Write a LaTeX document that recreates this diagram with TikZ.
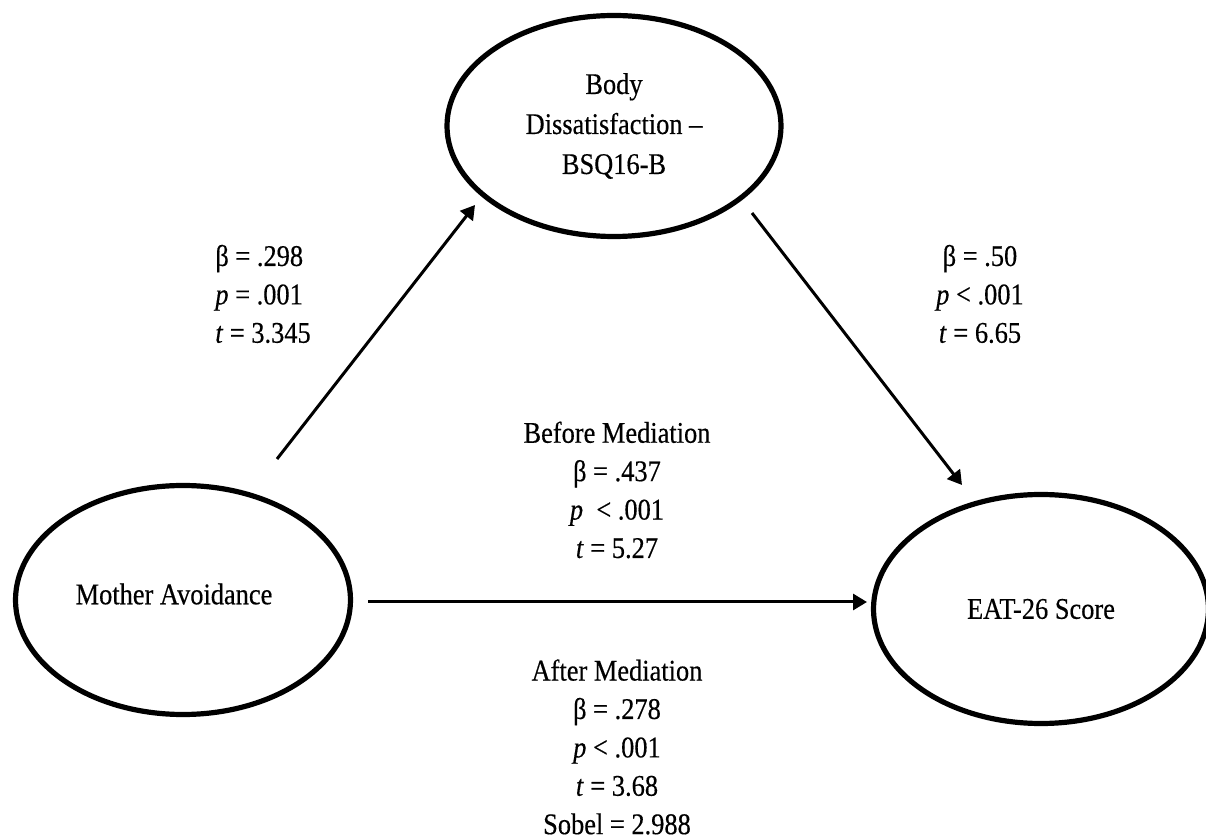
\documentclass[tikz,border=0pt]{standalone}
\usepackage{fontspec}
\setmainfont{Liberation Serif}[FakeStretch=0.88,FakeBold=0.4]
\usetikzlibrary{shapes.geometric,arrows.meta}
\begin{document}
\begin{tikzpicture}[x=0.5pt,y=-0.5pt,
  latent/.style={ellipse,draw,line width=2.6pt,inner sep=0pt,font=\fontsize{15}{20}\selectfont,align=center},
  lbl/.style={font=\fontsize{15}{19.2}\selectfont,align=center,inner sep=0pt},
  effect/.style={line width=1.5pt,-{Triangle[length=7pt,width=8pt]}}]
\useasboundingbox (0,0) rectangle (1206,839);
% latent variables
\node[latent, minimum width=167pt, minimum height=110.5pt] (bd) at (614,126) {Body\\Dissatisfaction –\\BSQ16-B};
\node[latent, minimum width=167.5pt, minimum height=114.5pt] (ma) at (183,600) {};
\node[lbl] (matext) at (174,594) {Mother Avoidance};
\node[latent, minimum width=167.5pt, minimum height=114.5pt] (eat) at (1041,609) {EAT-26 Score};
% connector end points
\coordinate (a1s) at (277,459);
\coordinate (a1e) at (475,205);
\coordinate (a2s) at (752,213);
\coordinate (a2e) at (962,485);
\coordinate (a3s) at (368,602);
\coordinate (a3e) at (867,602);
\draw[effect] (a1s) -- (a1e);
\draw[effect] (a2s) -- (a2e);
\draw[effect] (a3s) -- (a3e);
% labels
\node[lbl, align=left, anchor=west] (l1) at (215,294) {β = .298\\\textit{p} = .001\\\textit{t} = 3.345};
\node[lbl] (l2) at (980,294) {β = .50\\\textit{p} < .001\\\textit{t} = 6.65};
\node[lbl] (l3) at (617,490) {Before Mediation\\β = .437\\\textit{p} ~< .001\\\textit{t} = 5.27};
\node[lbl] (l4) at (617,747) {After Mediation\\β = .278\\\textit{p} < .001\\\textit{t} = 3.68\\Sobel = 2.988};
\end{tikzpicture}
\end{document}
